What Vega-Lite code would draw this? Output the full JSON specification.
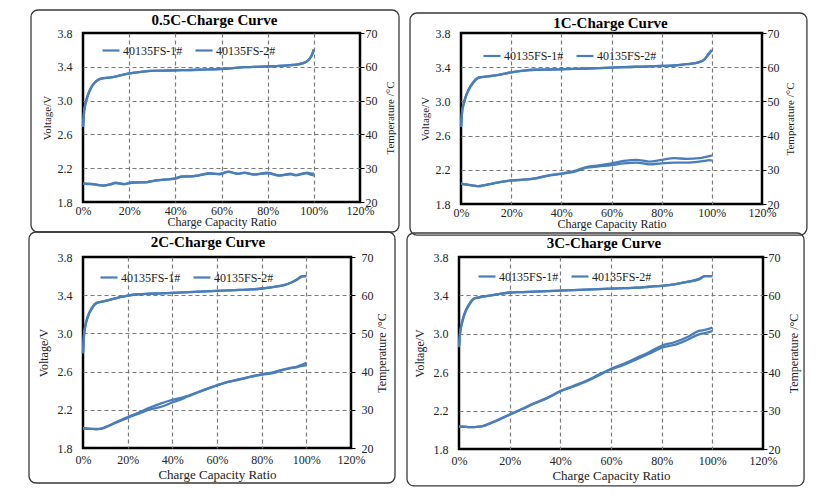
{
"$schema":"https://vega.github.io/schema/vega-lite/v6.json",
"background":"white",
"padding":{"left":27,"top":8,"right":0,"bottom":0},
"config":{
 "font":"Liberation Serif",
 "view":{"stroke":"#000","strokeWidth":2.5},
 "axis":{"labelFont":"Liberation Serif","labelFontSize":12,"labelColor":"#222","titleFont":"Liberation Serif","titleFontSize":12,"titleFontWeight":"normal","titleColor":"#222","labelFlush":false},
 "title":{"font":"Liberation Serif","fontSize":15,"fontWeight":"bold","color":"#000","offset":-19,"anchor":"middle","frame":"group"},
 "legend":{"symbolType":"stroke","symbolSize":289,"symbolStrokeWidth":2.2,"labelFont":"Liberation Serif","labelFontSize":12,"labelColor":"#222","labelOffset":2,"columnPadding":8,"padding":0}
},
"data":{"values":[
{"p":"a","r":0,"V1":2.69,"V2":2.69,"T1":25.5,"T2":25.5},
{"p":"a","r":0.005,"V1":2.88,"V2":2.87,"T1":25.5,"T2":25.4},
{"p":"a","r":0.01,"V1":2.96,"V2":2.95,"T1":25.4,"T2":25.4},
{"p":"a","r":0.02,"V1":3.06,"V2":3.05,"T1":25.4,"T2":25.3},
{"p":"a","r":0.03,"V1":3.13,"V2":3.12,"T1":25.4,"T2":25.3},
{"p":"a","r":0.05,"V1":3.21,"V2":3.21,"T1":25.2,"T2":25.2},
{"p":"a","r":0.07,"V1":3.255,"V2":3.25,"T1":25.0,"T2":25.0},
{"p":"a","r":0.09,"V1":3.265,"V2":3.265,"T1":24.8,"T2":24.9},
{"p":"a","r":0.12,"V1":3.275,"V2":3.275,"T1":25.3,"T2":25.2},
{"p":"a","r":0.14,"V1":3.285,"V2":3.285,"T1":25.7,"T2":25.6},
{"p":"a","r":0.18,"V1":3.31,"V2":3.31,"T1":25.3,"T2":25.3},
{"p":"a","r":0.21,"V1":3.325,"V2":3.325,"T1":25.8,"T2":25.7},
{"p":"a","r":0.25,"V1":3.34,"V2":3.34,"T1":25.8,"T2":25.8},
{"p":"a","r":0.28,"V1":3.35,"V2":3.35,"T1":25.9,"T2":25.9},
{"p":"a","r":0.3,"V1":3.352,"V2":3.352,"T1":26.2,"T2":26.2},
{"p":"a","r":0.35,"V1":3.355,"V2":3.355,"T1":26.6,"T2":26.6},
{"p":"a","r":0.4,"V1":3.358,"V2":3.358,"T1":27.0,"T2":26.9},
{"p":"a","r":0.43,"V1":3.36,"V2":3.36,"T1":27.6,"T2":27.5},
{"p":"a","r":0.47,"V1":3.362,"V2":3.362,"T1":27.6,"T2":27.6},
{"p":"a","r":0.5,"V1":3.365,"V2":3.365,"T1":27.9,"T2":27.8},
{"p":"a","r":0.55,"V1":3.37,"V2":3.37,"T1":28.5,"T2":28.4},
{"p":"a","r":0.59,"V1":3.373,"V2":3.373,"T1":28.3,"T2":28.2},
{"p":"a","r":0.63,"V1":3.38,"V2":3.38,"T1":29.0,"T2":28.9},
{"p":"a","r":0.67,"V1":3.39,"V2":3.39,"T1":28.3,"T2":28.4},
{"p":"a","r":0.7,"V1":3.395,"V2":3.395,"T1":28.7,"T2":28.6},
{"p":"a","r":0.74,"V1":3.398,"V2":3.398,"T1":28.1,"T2":28.2},
{"p":"a","r":0.8,"V1":3.405,"V2":3.405,"T1":28.7,"T2":28.5},
{"p":"a","r":0.85,"V1":3.41,"V2":3.41,"T1":27.8,"T2":27.9},
{"p":"a","r":0.9,"V1":3.42,"V2":3.42,"T1":28.4,"T2":28.2},
{"p":"a","r":0.92,"V1":3.425,"V2":3.425,"T1":27.9,"T2":28.0},
{"p":"a","r":0.95,"V1":3.44,"V2":3.44,"T1":28.3,"T2":28.4},
{"p":"a","r":0.97,"V1":3.465,"V2":3.465,"T1":28.7,"T2":28.5},
{"p":"a","r":0.99,"V1":3.53,"V2":3.53,"T1":28.4,"T2":28.0},
{"p":"a","r":1.0,"V1":3.61,"V2":3.6,"T1":28.5,"T2":27.9},

{"p":"b","r":0,"V1":2.71,"V2":2.7,"T1":26.0,"T2":26.0},
{"p":"b","r":0.005,"V1":2.9,"V2":2.89,"T1":25.9,"T2":25.9},
{"p":"b","r":0.01,"V1":2.97,"V2":2.96,"T1":25.8,"T2":25.8},
{"p":"b","r":0.02,"V1":3.07,"V2":3.06,"T1":25.7,"T2":25.7},
{"p":"b","r":0.03,"V1":3.14,"V2":3.13,"T1":25.6,"T2":25.6},
{"p":"b","r":0.05,"V1":3.23,"V2":3.22,"T1":25.4,"T2":25.4},
{"p":"b","r":0.07,"V1":3.28,"V2":3.275,"T1":25.2,"T2":25.2},
{"p":"b","r":0.1,"V1":3.29,"V2":3.29,"T1":25.6,"T2":25.6},
{"p":"b","r":0.15,"V1":3.31,"V2":3.31,"T1":26.3,"T2":26.3},
{"p":"b","r":0.2,"V1":3.34,"V2":3.34,"T1":26.9,"T2":26.9},
{"p":"b","r":0.25,"V1":3.36,"V2":3.36,"T1":27.1,"T2":27.1},
{"p":"b","r":0.3,"V1":3.37,"V2":3.37,"T1":27.6,"T2":27.5},
{"p":"b","r":0.35,"V1":3.373,"V2":3.373,"T1":28.4,"T2":28.3},
{"p":"b","r":0.4,"V1":3.376,"V2":3.376,"T1":28.9,"T2":28.8},
{"p":"b","r":0.45,"V1":3.38,"V2":3.38,"T1":29.6,"T2":29.4},
{"p":"b","r":0.5,"V1":3.385,"V2":3.385,"T1":30.8,"T2":30.6},
{"p":"b","r":0.55,"V1":3.39,"V2":3.39,"T1":31.3,"T2":31.0},
{"p":"b","r":0.6,"V1":3.395,"V2":3.395,"T1":31.9,"T2":31.4},
{"p":"b","r":0.65,"V1":3.4,"V2":3.4,"T1":32.6,"T2":31.9},
{"p":"b","r":0.7,"V1":3.405,"V2":3.405,"T1":32.9,"T2":32.1},
{"p":"b","r":0.75,"V1":3.41,"V2":3.41,"T1":32.4,"T2":31.6},
{"p":"b","r":0.8,"V1":3.415,"V2":3.415,"T1":32.9,"T2":31.9},
{"p":"b","r":0.85,"V1":3.42,"V2":3.42,"T1":33.4,"T2":32.1},
{"p":"b","r":0.9,"V1":3.435,"V2":3.435,"T1":33.2,"T2":32.1},
{"p":"b","r":0.95,"V1":3.46,"V2":3.46,"T1":33.4,"T2":32.4},
{"p":"b","r":0.97,"V1":3.49,"V2":3.49,"T1":33.7,"T2":32.6},
{"p":"b","r":0.99,"V1":3.57,"V2":3.56,"T1":34.0,"T2":32.8},
{"p":"b","r":1.0,"V1":3.6,"V2":3.6,"T1":34.2,"T2":32.7},

{"p":"c","r":0,"V1":2.8,"V2":2.79,"T1":25.2,"T2":25.2},
{"p":"c","r":0.005,"V1":3.0,"V2":2.99,"T1":25.2,"T2":25.1},
{"p":"c","r":0.01,"V1":3.08,"V2":3.07,"T1":25.1,"T2":25.1},
{"p":"c","r":0.02,"V1":3.17,"V2":3.16,"T1":25.1,"T2":25.0},
{"p":"c","r":0.04,"V1":3.27,"V2":3.26,"T1":25.0,"T2":25.0},
{"p":"c","r":0.06,"V1":3.32,"V2":3.315,"T1":25.0,"T2":24.9},
{"p":"c","r":0.08,"V1":3.33,"V2":3.33,"T1":25.1,"T2":25.0},
{"p":"c","r":0.1,"V1":3.34,"V2":3.34,"T1":25.5,"T2":25.4},
{"p":"c","r":0.15,"V1":3.37,"V2":3.37,"T1":26.8,"T2":26.7},
{"p":"c","r":0.2,"V1":3.395,"V2":3.395,"T1":28.1,"T2":27.9},
{"p":"c","r":0.25,"V1":3.41,"V2":3.41,"T1":29.3,"T2":29.0},
{"p":"c","r":0.3,"V1":3.415,"V2":3.415,"T1":30.6,"T2":30.1},
{"p":"c","r":0.35,"V1":3.42,"V2":3.42,"T1":31.7,"T2":30.8},
{"p":"c","r":0.4,"V1":3.425,"V2":3.425,"T1":32.6,"T2":31.9},
{"p":"c","r":0.45,"V1":3.43,"V2":3.43,"T1":33.3,"T2":33.0},
{"p":"c","r":0.5,"V1":3.435,"V2":3.435,"T1":34.3,"T2":34.2},
{"p":"c","r":0.55,"V1":3.44,"V2":3.44,"T1":35.4,"T2":35.3},
{"p":"c","r":0.6,"V1":3.445,"V2":3.445,"T1":36.4,"T2":36.4},
{"p":"c","r":0.65,"V1":3.45,"V2":3.45,"T1":37.3,"T2":37.3},
{"p":"c","r":0.7,"V1":3.455,"V2":3.455,"T1":38.0,"T2":37.9},
{"p":"c","r":0.75,"V1":3.46,"V2":3.46,"T1":38.7,"T2":38.6},
{"p":"c","r":0.8,"V1":3.47,"V2":3.47,"T1":39.3,"T2":39.2},
{"p":"c","r":0.85,"V1":3.485,"V2":3.485,"T1":39.8,"T2":39.6},
{"p":"c","r":0.9,"V1":3.505,"V2":3.505,"T1":40.6,"T2":40.5},
{"p":"c","r":0.93,"V1":3.53,"V2":3.53,"T1":41.0,"T2":40.9},
{"p":"c","r":0.96,"V1":3.57,"V2":3.565,"T1":41.3,"T2":41.2},
{"p":"c","r":0.98,"V1":3.6,"V2":3.595,"T1":41.8,"T2":41.5},
{"p":"c","r":1.0,"V1":3.6,"V2":3.6,"T1":42.3,"T2":41.7},

{"p":"d","r":0,"V1":2.87,"V2":2.86,"T1":25.8,"T2":25.8},
{"p":"d","r":0.005,"V1":3.03,"V2":3.02,"T1":25.8,"T2":25.8},
{"p":"d","r":0.01,"V1":3.1,"V2":3.09,"T1":25.8,"T2":25.8},
{"p":"d","r":0.02,"V1":3.2,"V2":3.19,"T1":25.8,"T2":25.8},
{"p":"d","r":0.04,"V1":3.31,"V2":3.3,"T1":25.7,"T2":25.7},
{"p":"d","r":0.06,"V1":3.37,"V2":3.365,"T1":25.7,"T2":25.7},
{"p":"d","r":0.08,"V1":3.38,"V2":3.38,"T1":25.8,"T2":25.8},
{"p":"d","r":0.1,"V1":3.39,"V2":3.39,"T1":26.1,"T2":26.1},
{"p":"d","r":0.15,"V1":3.41,"V2":3.41,"T1":27.5,"T2":27.4},
{"p":"d","r":0.2,"V1":3.43,"V2":3.43,"T1":29.0,"T2":28.9},
{"p":"d","r":0.25,"V1":3.435,"V2":3.435,"T1":30.5,"T2":30.4},
{"p":"d","r":0.3,"V1":3.44,"V2":3.44,"T1":32.0,"T2":31.9},
{"p":"d","r":0.35,"V1":3.445,"V2":3.445,"T1":33.4,"T2":33.3},
{"p":"d","r":0.4,"V1":3.45,"V2":3.45,"T1":35.1,"T2":35.0},
{"p":"d","r":0.45,"V1":3.455,"V2":3.455,"T1":36.4,"T2":36.2},
{"p":"d","r":0.5,"V1":3.46,"V2":3.46,"T1":37.7,"T2":37.5},
{"p":"d","r":0.55,"V1":3.465,"V2":3.465,"T1":39.3,"T2":39.1},
{"p":"d","r":0.6,"V1":3.47,"V2":3.47,"T1":40.9,"T2":40.7},
{"p":"d","r":0.65,"V1":3.475,"V2":3.475,"T1":42.2,"T2":41.9},
{"p":"d","r":0.7,"V1":3.48,"V2":3.48,"T1":43.7,"T2":43.3},
{"p":"d","r":0.75,"V1":3.49,"V2":3.49,"T1":45.2,"T2":44.8},
{"p":"d","r":0.8,"V1":3.5,"V2":3.5,"T1":46.9,"T2":46.4},
{"p":"d","r":0.85,"V1":3.515,"V2":3.515,"T1":47.8,"T2":47.1},
{"p":"d","r":0.9,"V1":3.54,"V2":3.54,"T1":49.1,"T2":48.4},
{"p":"d","r":0.95,"V1":3.575,"V2":3.57,"T1":50.8,"T2":49.9},
{"p":"d","r":0.97,"V1":3.6,"V2":3.6,"T1":51.0,"T2":50.2},
{"p":"d","r":1.0,"V1":3.6,"V2":3.6,"T1":51.6,"T2":50.7}
]},
"spacing":-7,
"resolve":{"scale":{"color":"independent"},"legend":{"color":"independent"}},
"vconcat":[
{"hconcat":[
 {"width":277,"height":169,"title":{"text":"0.5C-Charge Curve","dx":-7},
  "layer":[
   {"layer":[
     {"data":{"values":[{}]},"mark":{"type":"rect","fill":"transparent","stroke":"#3a3a3a","strokeWidth":1.3,"cornerRadius":7},
      "encoding":{"x":{"datum":-0.2253,"type":"quantitative","scale":{"domain":[0,1.2],"nice":false},"axis":{"values":[0,0.2,0.4,0.6,0.8,1.0,1.2],"format":".0%","title":"Charge Capacity Ratio","grid":true,"gridColor":"#7a7a7a","gridDash":[4,3],"gridWidth":1.2,"gridOpacity":{"condition":{"test":"datum.value < 0.01 || datum.value > 1.19","value":0},"value":1},"domain":false,"ticks":false,"labelPadding":3,"titlePadding":0}},"x2":{"datum":1.369},
       "y":{"datum":4.072,"type":"quantitative","scale":{"domain":[1.8,3.8],"nice":false,"zero":false},"axis":{"values":[1.8,2.2,2.6,3.0,3.4,3.8],"format":".1f","title":"Voltage/V","grid":true,"gridColor":"#7a7a7a","gridDash":[4,3],"gridWidth":1.2,"gridOpacity":{"condition":{"test":"datum.value < 1.81 || datum.value > 3.79","value":0},"value":1},"domain":false,"ticks":false,"labelPadding":11,"titleFontSize":11,"titlePadding":5}},"y2":{"datum":1.445}}},
     {"transform":[{"filter":"datum.p==='a'"},{"fold":["V1","V2"],"as":["cell","V"]}],
      "mark":{"type":"line","strokeWidth":2.3,"interpolate":"monotone"},
      "encoding":{"x":{"field":"r","type":"quantitative","scale":{"domain":[0,1.2],"nice":false},"axis":{"values":[0,0.2,0.4,0.6,0.8,1.0,1.2],"format":".0%","title":"Charge Capacity Ratio","grid":true,"gridColor":"#7a7a7a","gridDash":[4,3],"gridWidth":1.2,"gridOpacity":{"condition":{"test":"datum.value < 0.01 || datum.value > 1.19","value":0},"value":1},"domain":false,"ticks":false,"labelPadding":3,"titlePadding":0}},
       "y":{"field":"V","type":"quantitative","scale":{"domain":[1.8,3.8],"nice":false,"zero":false},"axis":{"values":[1.8,2.2,2.6,3.0,3.4,3.8],"format":".1f","title":"Voltage/V","grid":true,"gridColor":"#7a7a7a","gridDash":[4,3],"gridWidth":1.2,"gridOpacity":{"condition":{"test":"datum.value < 1.81 || datum.value > 3.79","value":0},"value":1},"domain":false,"ticks":false,"labelPadding":11,"titleFontSize":11,"titlePadding":5}},
       "color":{"field":"cell","type":"nominal","scale":{"domain":["V1","V2"],"range":["#4A7EBB","#4A7EBB"]},"legend":{"orient":"none","legendX":18,"legendY":7.5,"direction":"horizontal","title":null,"labelExpr":"datum.label === 'V1' ? '40135FS-1#' : '40135FS-2#'"}}}}
   ]},
   {"transform":[{"filter":"datum.p==='a'"},{"fold":["T1","T2"],"as":["cell2","T"]}],
    "mark":{"type":"line","strokeWidth":2.3,"color":"#4A7EBB","interpolate":"monotone"},
    "encoding":{"x":{"field":"r","type":"quantitative","scale":{"domain":[0,1.2],"nice":false},"axis":{"values":[0,0.2,0.4,0.6,0.8,1.0,1.2],"format":".0%","title":"Charge Capacity Ratio","grid":true,"gridColor":"#7a7a7a","gridDash":[4,3],"gridWidth":1.2,"gridOpacity":{"condition":{"test":"datum.value < 0.01 || datum.value > 1.19","value":0},"value":1},"domain":false,"ticks":false,"labelPadding":3,"titlePadding":0}},
     "y":{"field":"T","type":"quantitative","scale":{"domain":[20,70],"nice":false,"zero":false},"axis":{"orient":"right","values":[20,30,40,50,60,70],"grid":false,"domain":false,"ticks":true,"tickColor":"#000","tickSize":4,"labelPadding":1,"title":"Temperature /°C","titleAngle":270,"titleBaseline":"top","titlePadding":7,"titleFontSize":11}},
     "detail":{"field":"cell2","type":"nominal"}}}
  ],
  "resolve":{"scale":{"y":"independent"}}},
 {"width":301,"height":171,"title":{"text":"1C-Charge Curve","dx":-1},
  "layer":[
   {"layer":[
     {"data":{"values":[{}]},"mark":{"type":"rect","fill":"transparent","stroke":"#3a3a3a","strokeWidth":1.3,"cornerRadius":7},
      "encoding":{"x":{"datum":-0.2033,"type":"quantitative","scale":{"domain":[0,1.2],"nice":false},"axis":{"values":[0,0.2,0.4,0.6,0.8,1.0,1.2],"format":".0%","title":"Charge Capacity Ratio","grid":true,"gridColor":"#7a7a7a","gridDash":[4,3],"gridWidth":1.2,"gridOpacity":{"condition":{"test":"datum.value < 0.01 || datum.value > 1.19","value":0},"value":1},"domain":false,"ticks":false,"labelPadding":3,"titlePadding":0}},"x2":{"datum":1.379},
       "y":{"datum":4.034,"type":"quantitative","scale":{"domain":[1.8,3.8],"nice":false,"zero":false},"axis":{"values":[1.8,2.2,2.6,3.0,3.4,3.8],"format":".1f","title":"Voltage/V","grid":true,"gridColor":"#7a7a7a","gridDash":[4,3],"gridWidth":1.2,"gridOpacity":{"condition":{"test":"datum.value < 1.81 || datum.value > 3.79","value":0},"value":1},"domain":false,"ticks":false,"labelPadding":11,"titleFontSize":11,"titlePadding":5}},"y2":{"datum":1.437}}},
     {"transform":[{"filter":"datum.p==='b'"},{"fold":["V1","V2"],"as":["cell","V"]}],
      "mark":{"type":"line","strokeWidth":2.3,"interpolate":"monotone"},
      "encoding":{"x":{"field":"r","type":"quantitative","scale":{"domain":[0,1.2],"nice":false},"axis":{"values":[0,0.2,0.4,0.6,0.8,1.0,1.2],"format":".0%","title":"Charge Capacity Ratio","grid":true,"gridColor":"#7a7a7a","gridDash":[4,3],"gridWidth":1.2,"gridOpacity":{"condition":{"test":"datum.value < 0.01 || datum.value > 1.19","value":0},"value":1},"domain":false,"ticks":false,"labelPadding":3,"titlePadding":0}},
       "y":{"field":"V","type":"quantitative","scale":{"domain":[1.8,3.8],"nice":false,"zero":false},"axis":{"values":[1.8,2.2,2.6,3.0,3.4,3.8],"format":".1f","title":"Voltage/V","grid":true,"gridColor":"#7a7a7a","gridDash":[4,3],"gridWidth":1.2,"gridOpacity":{"condition":{"test":"datum.value < 1.81 || datum.value > 3.79","value":0},"value":1},"domain":false,"ticks":false,"labelPadding":11,"titleFontSize":11,"titlePadding":5}},
       "color":{"field":"cell","type":"nominal","scale":{"domain":["V1","V2"],"range":["#4A7EBB","#4A7EBB"]},"legend":{"orient":"none","legendX":21,"legendY":13,"direction":"horizontal","title":null,"labelExpr":"datum.label === 'V1' ? '40135FS-1#' : '40135FS-2#'"}}}}
   ]},
   {"transform":[{"filter":"datum.p==='b'"},{"fold":["T1","T2"],"as":["cell2","T"]}],
    "mark":{"type":"line","strokeWidth":2.3,"color":"#4A7EBB","interpolate":"monotone"},
    "encoding":{"x":{"field":"r","type":"quantitative","scale":{"domain":[0,1.2],"nice":false},"axis":{"values":[0,0.2,0.4,0.6,0.8,1.0,1.2],"format":".0%","title":"Charge Capacity Ratio","grid":true,"gridColor":"#7a7a7a","gridDash":[4,3],"gridWidth":1.2,"gridOpacity":{"condition":{"test":"datum.value < 0.01 || datum.value > 1.19","value":0},"value":1},"domain":false,"ticks":false,"labelPadding":3,"titlePadding":0}},
     "y":{"field":"T","type":"quantitative","scale":{"domain":[20,70],"nice":false,"zero":false},"axis":{"orient":"right","values":[20,30,40,50,60,70],"grid":false,"domain":false,"ticks":true,"tickColor":"#000","tickSize":4,"labelPadding":1,"title":"Temperature /°C","titleAngle":270,"titleBaseline":"top","titlePadding":5,"titleFontSize":11}},
     "detail":{"field":"cell2","type":"nominal"}}}
  ],
  "resolve":{"scale":{"y":"independent"}}}
 ],
 "spacing":7,
 "resolve":{"scale":{"color":"independent"},"legend":{"color":"independent"}}},
{"hconcat":[
 {"width":268,"height":191,"title":{"text":"2C-Charge Curve","dx":-9},
  "layer":[
   {"layer":[
     {"data":{"values":[{}]},"mark":{"type":"rect","fill":"transparent","stroke":"#3a3a3a","strokeWidth":1.3,"cornerRadius":7},
      "encoding":{"x":{"datum":-0.2418,"type":"quantitative","scale":{"domain":[0,1.2],"nice":false},"axis":{"values":[0,0.2,0.4,0.6,0.8,1.0,1.2],"format":".0%","title":"Charge Capacity Ratio","grid":true,"gridColor":"#7a7a7a","gridDash":[4,3],"gridWidth":1.2,"gridOpacity":{"condition":{"test":"datum.value < 0.01 || datum.value > 1.19","value":0},"value":1},"domain":false,"ticks":false,"labelPadding":6,"titleFontSize":13,"titlePadding":3}},"x2":{"datum":1.397},
       "y":{"datum":4.062,"type":"quantitative","scale":{"domain":[1.8,3.8],"nice":false,"zero":false},"axis":{"values":[1.8,2.2,2.6,3.0,3.4,3.8],"format":".1f","title":"Voltage/V","grid":true,"gridColor":"#7a7a7a","gridDash":[4,3],"gridWidth":1.2,"gridOpacity":{"condition":{"test":"datum.value < 1.81 || datum.value > 3.79","value":0},"value":1},"domain":false,"ticks":false,"labelPadding":11,"titleFontSize":12,"titlePadding":7}},"y2":{"datum":1.4335}}},
     {"transform":[{"filter":"datum.p==='c'"},{"fold":["V1","V2"],"as":["cell","V"]}],
      "mark":{"type":"line","strokeWidth":2.3,"interpolate":"monotone"},
      "encoding":{"x":{"field":"r","type":"quantitative","scale":{"domain":[0,1.2],"nice":false},"axis":{"values":[0,0.2,0.4,0.6,0.8,1.0,1.2],"format":".0%","title":"Charge Capacity Ratio","grid":true,"gridColor":"#7a7a7a","gridDash":[4,3],"gridWidth":1.2,"gridOpacity":{"condition":{"test":"datum.value < 0.01 || datum.value > 1.19","value":0},"value":1},"domain":false,"ticks":false,"labelPadding":6,"titleFontSize":13,"titlePadding":3}},
       "y":{"field":"V","type":"quantitative","scale":{"domain":[1.8,3.8],"nice":false,"zero":false},"axis":{"values":[1.8,2.2,2.6,3.0,3.4,3.8],"format":".1f","title":"Voltage/V","grid":true,"gridColor":"#7a7a7a","gridDash":[4,3],"gridWidth":1.2,"gridOpacity":{"condition":{"test":"datum.value < 1.81 || datum.value > 3.79","value":0},"value":1},"domain":false,"ticks":false,"labelPadding":11,"titleFontSize":12,"titlePadding":7}},
       "color":{"field":"cell","type":"nominal","scale":{"domain":["V1","V2"],"range":["#4A7EBB","#4A7EBB"]},"legend":{"orient":"none","legendX":16,"legendY":10.5,"direction":"horizontal","title":null,"labelExpr":"datum.label === 'V1' ? '40135FS-1#' : '40135FS-2#'"}}}}
   ]},
   {"transform":[{"filter":"datum.p==='c'"},{"fold":["T1","T2"],"as":["cell2","T"]}],
    "mark":{"type":"line","strokeWidth":2.3,"color":"#4A7EBB","interpolate":"monotone"},
    "encoding":{"x":{"field":"r","type":"quantitative","scale":{"domain":[0,1.2],"nice":false},"axis":{"values":[0,0.2,0.4,0.6,0.8,1.0,1.2],"format":".0%","title":"Charge Capacity Ratio","grid":true,"gridColor":"#7a7a7a","gridDash":[4,3],"gridWidth":1.2,"gridOpacity":{"condition":{"test":"datum.value < 0.01 || datum.value > 1.19","value":0},"value":1},"domain":false,"ticks":false,"labelPadding":6,"titleFontSize":13,"titlePadding":3}},
     "y":{"field":"T","type":"quantitative","scale":{"domain":[20,70],"nice":false,"zero":false},"axis":{"orient":"right","values":[20,30,40,50,60,70],"grid":false,"domain":false,"ticks":true,"tickColor":"#000","tickSize":4,"labelPadding":6,"title":"Temperature /°C","titleAngle":270,"titleBaseline":"top","titlePadding":3,"titleFontSize":12}},
     "detail":{"field":"cell2","type":"nominal"}}}
  ],
  "resolve":{"scale":{"y":"independent"}}},
 {"width":304,"height":192,"title":{"text":"3C-Charge Curve","dx":-7},
  "layer":[
   {"layer":[
     {"data":{"values":[{}]},"mark":{"type":"rect","fill":"transparent","stroke":"#3a3a3a","strokeWidth":1.3,"cornerRadius":7},
      "encoding":{"x":{"datum":-0.2053,"type":"quantitative","scale":{"domain":[0,1.2],"nice":false},"axis":{"values":[0,0.2,0.4,0.6,0.8,1.0,1.2],"format":".0%","title":"Charge Capacity Ratio","grid":true,"gridColor":"#7a7a7a","gridDash":[4,3],"gridWidth":1.2,"gridOpacity":{"condition":{"test":"datum.value < 0.01 || datum.value > 1.19","value":0},"value":1},"domain":false,"ticks":false,"labelPadding":6,"titleFontSize":13,"titlePadding":3}},"x2":{"datum":1.362},
       "y":{"datum":4.05,"type":"quantitative","scale":{"domain":[1.8,3.8],"nice":false,"zero":false},"axis":{"values":[1.8,2.2,2.6,3.0,3.4,3.8],"format":".1f","title":"Voltage/V","grid":true,"gridColor":"#7a7a7a","gridDash":[4,3],"gridWidth":1.2,"gridOpacity":{"condition":{"test":"datum.value < 1.81 || datum.value > 3.79","value":0},"value":1},"domain":false,"ticks":false,"labelPadding":11,"titleFontSize":12,"titlePadding":7}},"y2":{"datum":1.415}}},
     {"transform":[{"filter":"datum.p==='d'"},{"fold":["V1","V2"],"as":["cell","V"]}],
      "mark":{"type":"line","strokeWidth":2.3,"interpolate":"monotone"},
      "encoding":{"x":{"field":"r","type":"quantitative","scale":{"domain":[0,1.2],"nice":false},"axis":{"values":[0,0.2,0.4,0.6,0.8,1.0,1.2],"format":".0%","title":"Charge Capacity Ratio","grid":true,"gridColor":"#7a7a7a","gridDash":[4,3],"gridWidth":1.2,"gridOpacity":{"condition":{"test":"datum.value < 0.01 || datum.value > 1.19","value":0},"value":1},"domain":false,"ticks":false,"labelPadding":6,"titleFontSize":13,"titlePadding":3}},
       "y":{"field":"V","type":"quantitative","scale":{"domain":[1.8,3.8],"nice":false,"zero":false},"axis":{"values":[1.8,2.2,2.6,3.0,3.4,3.8],"format":".1f","title":"Voltage/V","grid":true,"gridColor":"#7a7a7a","gridDash":[4,3],"gridWidth":1.2,"gridOpacity":{"condition":{"test":"datum.value < 1.81 || datum.value > 3.79","value":0},"value":1},"domain":false,"ticks":false,"labelPadding":11,"titleFontSize":12,"titlePadding":7}},
       "color":{"field":"cell","type":"nominal","scale":{"domain":["V1","V2"],"range":["#4A7EBB","#4A7EBB"]},"legend":{"orient":"none","legendX":18,"legendY":9.5,"direction":"horizontal","title":null,"labelExpr":"datum.label === 'V1' ? '40135FS-1#' : '40135FS-2#'"}}}}
   ]},
   {"transform":[{"filter":"datum.p==='d'"},{"fold":["T1","T2"],"as":["cell2","T"]}],
    "mark":{"type":"line","strokeWidth":2.3,"color":"#4A7EBB","interpolate":"monotone"},
    "encoding":{"x":{"field":"r","type":"quantitative","scale":{"domain":[0,1.2],"nice":false},"axis":{"values":[0,0.2,0.4,0.6,0.8,1.0,1.2],"format":".0%","title":"Charge Capacity Ratio","grid":true,"gridColor":"#7a7a7a","gridDash":[4,3],"gridWidth":1.2,"gridOpacity":{"condition":{"test":"datum.value < 0.01 || datum.value > 1.19","value":0},"value":1},"domain":false,"ticks":false,"labelPadding":6,"titleFontSize":13,"titlePadding":3}},
     "y":{"field":"T","type":"quantitative","scale":{"domain":[20,70],"nice":false,"zero":false},"axis":{"orient":"right","values":[20,30,40,50,60,70],"grid":false,"domain":false,"ticks":true,"tickColor":"#000","tickSize":4,"labelPadding":1,"title":"Temperature /°C","titleAngle":270,"titleBaseline":"top","titlePadding":8,"titleFontSize":12}},
     "detail":{"field":"cell2","type":"nominal"}}}
  ],
  "resolve":{"scale":{"y":"independent"}}}
 ],
 "spacing":8,
 "resolve":{"scale":{"color":"independent"},"legend":{"color":"independent"}}}
]
}
